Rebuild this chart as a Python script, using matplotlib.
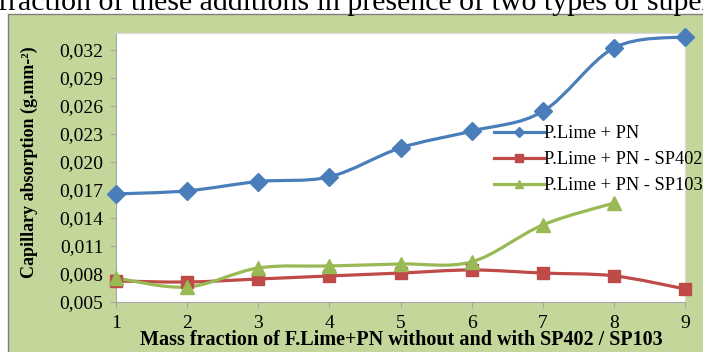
import matplotlib
matplotlib.use("Agg")
import matplotlib.pyplot as plt
import numpy as np
from matplotlib.path import Path
from matplotlib.patches import PathPatch, Rectangle
from matplotlib.lines import Line2D

x_vals = [1, 2, 3, 4, 5, 6, 7, 8, 9]
plime_pn = [0.01657, 0.0169, 0.0179, 0.0184, 0.0215, 0.0233, 0.0254, 0.0322, 0.0334]
plime_sp402 = [0.00725, 0.00714, 0.00746, 0.00779, 0.0081, 0.00843, 0.0081, 0.0078, 0.0064]
x_sp103 = [1, 2, 3, 4, 5, 6, 7, 8]
plime_sp103 = [0.00757, 0.0066, 0.00864, 0.00886, 0.00907, 0.0093, 0.01325, 0.0156]
series_names = ["P.Lime + PN", "P.Lime + PN - SP402", "P.Lime + PN - SP103"]
y_ticks = [0.005, 0.008, 0.011, 0.014, 0.017, 0.020, 0.023, 0.026, 0.029, 0.032]
y_ticklabels = ["0,005", "0,008", "0,011", "0,014", "0,017", "0,020", "0,023", "0,026", "0,029", "0,032"]

BLUE = "#4A7EBB"
RED = "#BE4B48"
GREEN = "#98B954"
BG = "#C4D79B"
SERIF = ["Liberation Serif", "DejaVu Serif"]

W, H = 703, 352
fig = plt.figure(figsize=(W / 100, H / 100), dpi=100)
fig.patch.set_facecolor("white")

# green chart area
bg = Rectangle((8 / W, -0.1), 1.2, (H - 14) / H + 0.1, transform=fig.transFigure,
               facecolor=BG, edgecolor="#7F7F7F", linewidth=1.0, zorder=-5)
fig.add_artist(bg)

# cropped document text at top
fig.text(-2 / W, 1 - 10 / H, "fraction of these additions in presence of two types of super",
         fontsize=21.5, family=SERIF, va="baseline", ha="left", color="black", zorder=-4)

ax = fig.add_axes([116 / W, (H - 302) / H, (685 - 116) / W, (302 - 33) / H], zorder=1)
ax.set_facecolor("white")
for s in ["top", "right"]:
    ax.spines[s].set_color("#D9D9D9")
for s in ["left", "bottom"]:
    ax.spines[s].set_color("#A6A6A6")
ax.set_xlim(1, 9)
ax.set_ylim(0.005, 0.0338)
ax.set_xticks(x_vals)
ax.set_xticklabels([str(v) for v in x_vals])
ax.set_yticks(y_ticks)
ax.set_yticklabels(y_ticklabels)
ax.tick_params(axis="both", direction="out", length=4, color="#A6A6A6", labelsize=14, pad=5)
for lab in ax.get_xticklabels() + ax.get_yticklabels():
    lab.set_family(SERIF)


def smooth_path(xs, ys):
    pts = np.column_stack([xs, ys]).astype(float)
    n = len(pts)
    verts = [pts[0]]
    codes = [Path.MOVETO]
    for i in range(n - 1):
        p0 = pts[i - 1] if i > 0 else pts[i]
        p1 = pts[i]
        p2 = pts[i + 1]
        p3 = pts[i + 2] if i + 2 < n else pts[i + 1]
        c1 = p1 + (p2 - p0) / 6.0
        c2 = p2 - (p3 - p1) / 6.0
        verts += [c1, c2, p2]
        codes += [Path.CURVE4] * 3
    return Path(verts, codes)


series = [
    (x_vals, plime_pn, BLUE, "D", 9),
    (x_vals, plime_sp402, RED, "s", 9),
    (x_sp103, plime_sp103, GREEN, "^", 10),
]
for xs, ys, col, mk, ms in series:
    ax.add_patch(PathPatch(smooth_path(xs, ys), facecolor="none", edgecolor=col, lw=2.3,
                           clip_on=False, zorder=3))
    ax.plot(xs, ys, linestyle="none", marker=mk, markersize=ms, color=col,
            markeredgecolor=col, clip_on=False, zorder=4)

handles = [
    Line2D([], [], color=BLUE, lw=2.3, marker="D", markersize=5),
    Line2D([], [], color=RED, lw=2.3, marker="s", markersize=6),
    Line2D([], [], color=GREEN, lw=2.3, marker="^", markersize=6),
]
leg = ax.legend(handles, series_names, loc="upper left", bbox_to_anchor=(494 / W, 1 - 125 / H),
                bbox_transform=fig.transFigure,
                frameon=False, prop={"family": SERIF, "size": 13.2}, handlelength=2.7,
                handletextpad=0.05, labelspacing=0.5, borderaxespad=0, borderpad=0)
leg.set_zorder(10)

ax.set_ylabel("Capillary absorption (g.mm-²)", family=SERIF, fontsize=13, fontweight="bold")
ax.yaxis.set_label_coords(-(116 - 38) / (685 - 116), 0.52)
ax.set_xlabel("Mass fraction of F.Lime+PN without and with SP402 / SP103", family=SERIF,
              fontsize=14.5, fontweight="bold", va="center")
ax.xaxis.set_label_coords((401 - 116) / (685 - 116), -(340 - 302) / (302 - 33))

fig.savefig("out.png", dpi=100)
